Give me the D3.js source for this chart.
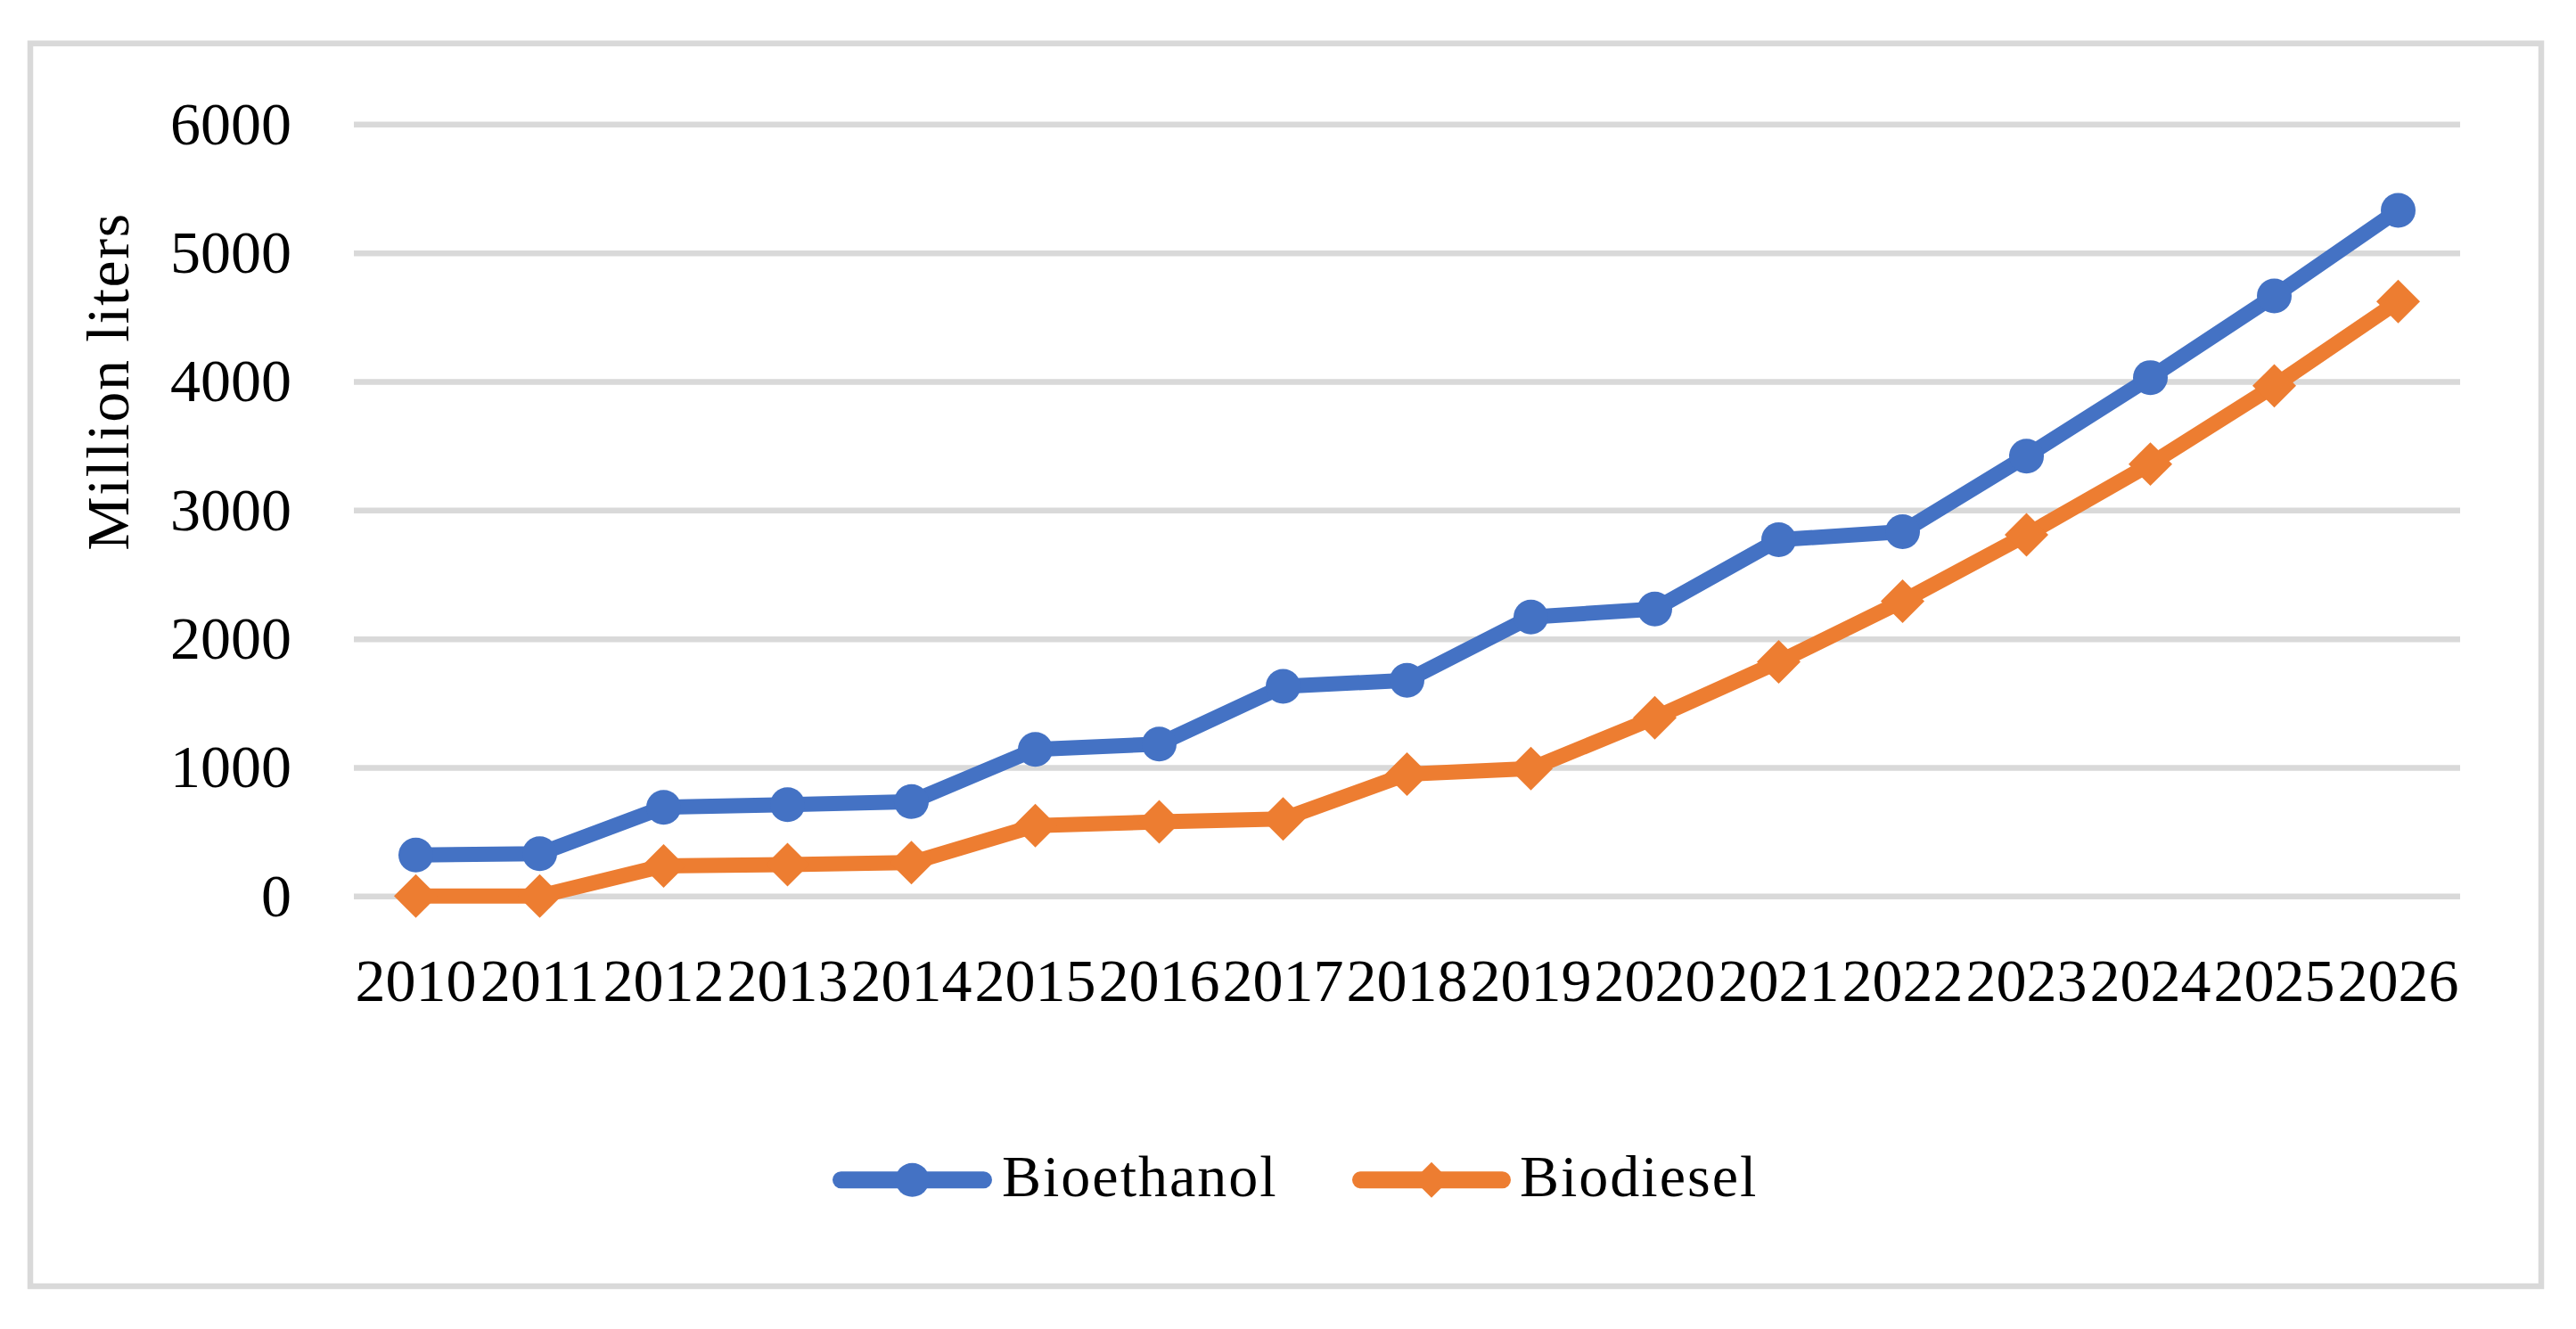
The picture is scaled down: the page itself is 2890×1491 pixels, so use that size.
<!DOCTYPE html>
<html>
<head>
<meta charset="utf-8">
<script src="https://cdn.jsdelivr.net/npm/d3@7"></script>
<style>
  body { margin: 0; background: #fff; }
  svg { display: block; }
</style>
</head>
<body>
<div id="chart"></div>
<script>
// values (million liters)
var years = ["2010", "2011", "2012", "2013", "2014", "2015", "2016", "2017", "2018",
             "2019", "2020", "2021", "2022", "2023", "2024", "2025", "2026"];
var bioethanol = [319, 330, 690, 711, 734, 1140, 1182, 1630, 1677,
                  2169, 2231, 2770, 2832, 3420, 4030, 4665, 5330];
var biodiesel = [0, 0, 235, 245, 260, 547, 577, 600, 947,
                 991, 1386, 1820, 2292, 2808, 3358, 3966, 4622];
var yTicks = [0, 1000, 2000, 3000, 4000, 5000, 6000];
var seriesNames = ["Bioethanol", "Biodiesel"];

var W = 2890, H = 1491;
var plot = { left: 397, right: 2760, top: 139.3, bottom: 1005.3 };
var BLUE = "#4472C4", ORANGE = "#ED7D31", GRID = "#D9D9D9";
var FONT = "'Liberation Serif', 'Times New Roman', serif";

var svg = d3.select("#chart").append("svg:svg")
    .attr("width", W)
    .attr("height", H);

svg.append("svg:rect")
    .attr("width", W).attr("height", H)
    .attr("fill", "#fff");

// chart frame
svg.append("svg:rect")
    .attr("x", 34).attr("y", 48.7)
    .attr("width", 2851 - 34).attr("height", 1443 - 48.7)
    .attr("fill", "none")
    .attr("stroke", GRID)
    .attr("stroke-width", 6.5);

var x = d3.scaleBand()
    .domain(years)
    .range([plot.left, plot.right])
    .padding(0);

var y = d3.scaleLinear()
    .domain([0, 6000])
    .range([plot.bottom, plot.top]);

// y axis with gridlines
var yAxis = svg.append("svg:g")
    .attr("transform", "translate(" + plot.left + ",0)")
    .call(d3.axisLeft(y)
        .tickValues(yTicks)
        .tickSize(-(plot.right - plot.left))
        .tickPadding(70)
        .tickFormat(d3.format("d")));
yAxis.select(".domain").remove();
yAxis.selectAll(".tick line")
    .attr("stroke", GRID)
    .attr("stroke-width", 6.5);
yAxis.selectAll(".tick text")
    .attr("fill", "#000")
    .attr("font-family", FONT)
    .attr("font-size", 68);

// x axis labels
var xAxis = svg.append("svg:g")
    .attr("transform", "translate(0," + plot.bottom + ")")
    .call(d3.axisBottom(x).tickSize(0).tickPadding(69));
xAxis.select(".domain").remove();
xAxis.selectAll(".tick text")
    .attr("fill", "#000")
    .attr("font-family", FONT)
    .attr("font-size", 68);

// y axis title
svg.append("svg:text")
    .attr("transform", "translate(143.5,428) rotate(-90)")
    .attr("text-anchor", "middle")
    .attr("font-family", FONT)
    .attr("font-size", 68)
    .attr("letter-spacing", 1.6)
    .attr("fill", "#000")
    .text("Million liters");

var cx = function(d, i) { return x(years[i]) + x.bandwidth() / 2; };

var line = d3.line()
    .x(cx)
    .y(function(d) { return y(d); });

var circleSym = d3.symbol().type(d3.symbolCircle).size(Math.PI * 19.5 * 19.5);
var diamondSym = d3.symbol().type(d3.symbolSquare).size(1200);

function drawSeries(values, color, sym, rotate) {
    var g = svg.append("svg:g");
    g.append("svg:path")
        .datum(values)
        .attr("d", line)
        .attr("fill", "none")
        .attr("stroke", color)
        .attr("stroke-width", 17)
        .attr("stroke-linejoin", "round");
    g.selectAll("path.marker")
        .data(values)
        .enter().append("svg:path")
        .attr("class", "marker")
        .attr("d", sym)
        .attr("fill", color)
        .attr("transform", function(d, i) {
            return "translate(" + cx(d, i) + "," + y(d) + ")" + (rotate ? " rotate(45)" : "");
        });
}

drawSeries(bioethanol, BLUE, circleSym, false);
drawSeries(biodiesel, ORANGE, diamondSym, true);

// legend
var legend = [
    { name: seriesNames[0], color: BLUE, x1: 934, x2: 1113, tx: 1124, sym: d3.symbol().type(d3.symbolCircle).size(Math.PI * 19 * 19), rot: false },
    { name: seriesNames[1], color: ORANGE, x1: 1517, x2: 1695, tx: 1705, sym: d3.symbol().type(d3.symbolSquare).size(800), rot: true }
];
var legendY = 1323.7;
legend.forEach(function(l) {
    svg.append("svg:line")
        .attr("x1", l.x1 + 9.5).attr("x2", l.x2 - 9.5)
        .attr("y1", legendY).attr("y2", legendY)
        .attr("stroke", l.color)
        .attr("stroke-width", 19)
        .attr("stroke-linecap", "round");
    svg.append("svg:path")
        .attr("d", l.sym)
        .attr("fill", l.color)
        .attr("transform", "translate(" + (l.x1 + l.x2) / 2 + "," + legendY + ")" + (l.rot ? " rotate(45)" : ""));
    svg.append("svg:text")
        .attr("x", l.tx)
        .attr("y", 1341.7)
        .attr("font-family", FONT)
        .attr("font-size", 66)
        .attr("letter-spacing", 2)
        .attr("fill", "#000")
        .text(l.name);
});
</script>
</body>
</html>
